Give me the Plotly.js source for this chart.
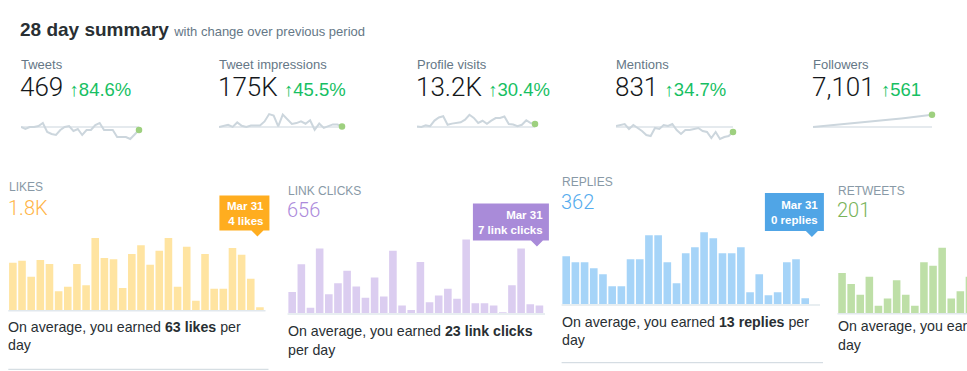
<!DOCTYPE html>
<html><head><meta charset="utf-8">
<script src="https://cdn.plot.ly/plotly-3.0.1.min.js"></script>
<style>html,body{margin:0;padding:0;background:#fff;overflow:hidden}#chart{width:967px;height:371px}</style>
</head><body><div id="chart"></div>
<script>
// ---------------- DATA ----------------
const days = ['Mar 4','Mar 5','Mar 6','Mar 7','Mar 8','Mar 9','Mar 10','Mar 11','Mar 12','Mar 13','Mar 14','Mar 15','Mar 16','Mar 17',
  'Mar 18','Mar 19','Mar 20','Mar 21','Mar 22','Mar 23','Mar 24','Mar 25','Mar 26','Mar 27','Mar 28','Mar 29','Mar 30','Mar 31'];

const metricTitles  = ['Tweets','Tweet impressions','Profile visits','Mentions','Followers'];
const metricTotals  = ['469','175K','13.2K','831','7,101'];
const metricChanges = ['84.6%','45.5%','30.4%','34.7%','561'];

const tweetsDaily = [20,18,20,20,21,24,15,13,12,17,20,21,16,18,12,17,17,22,24,17,17,17,10,10,10,8,12,17];
const impressionsDaily = [4200,5100,5600,4300,7000,5000,4300,5100,5300,5200,7600,12000,11100,4600,11700,8600,6100,6600,7700,6200,8300,2600,6300,3700,4600,5800,5700,4600];
const profileVisitsDaily = [338,322,368,343,512,605,641,388,421,437,462,538,688,594,441,507,418,512,587,593,636,409,392,341,386,523,437,412];
const mentionsDaily = [34,35,36,31,35,32,29,25,24,32,31,35,34,36,30,26,30,30,31,32,29,28,22,28,21,23,24,28];
const followersTotal = [6540,6558,6575,6590,6611,6630,6650,6668,6689,6705,6726,6748,6765,6786,6805,6822,6845,6866,6884,6905,6926,6948,6968,6990,7015,7040,7070,7101];
const sparkBaselines = [20,4250,320,33,6540];

const panelLabels = ['LIKES','LINK CLICKS','REPLIES','RETWEETS'];
const panelUnits  = ['likes','link clicks','replies','retweets'];
const likesDaily      = [71,74,50,75,69,28,35,69,37,108,78,76,33,84,97,68,89,108,35,95,14,84,32,32,93,83,47,4];
const linkClicksDaily = [19,44,5,58,17,27,38,24,14,32,15,56,7,3,46,10,16,22,13,66,9,9,7,1,25,58,8,7];
const repliesDaily    = [16,14,14,12,10,6,6,15,15,23,23,14,7,17,19,24,22,17,17,19,4,10,3,4,14,15,2,0];
const retweetsDaily   = [11,8,5,10,2,4,9,5,2,14,13,18,4,6,10,7,3,9,5,4,8,6,2,9,7,5,9,6];

// ---------------- STYLE / LAYOUT ----------------
const W = 967, H = 371;
const PX = x => x / W, PY = y => 1 - y / H;
const FONT = '"Liberation Sans", Arial, sans-serif';
const LIGHT = 'Roboto, "Liberation Sans", sans-serif';
const DARK = '#14171A', GRAY = '#657786', LABEL = '#8899A6', GREEN = '#17BF63';
const TXT_PAD = 2.5; // annotation inner padding compensation

const sparkStyle = [
  {values: tweetsDaily,        upp: 1,    x0: 21,  x1: 139},
  {values: impressionsDaily,   upp: 600,  x0: 219, x1: 342},
  {values: profileVisitsDaily, upp: 30,   x0: 417, x1: 535},
  {values: mentionsDaily,      upp: 1,    x0: 616, x1: 733},
  {values: followersTotal,     upp: 45.6, x0: 813, x1: 932}
];
const panelStyle = [
  {values: likesDaily,      x0: 8.3,   x1: 264.5, base: 310,   ppu: 0.667, labelY: 187.3, totalY: 208,   textY: 326.7, tipY: 236.5, boxW: 50, boxH: 35, bar: '#FFE4A1', accent: '#FFAD1F', total: '#FFB547', secondLine: 'day',     bottomLine: 369.3, tip: true},
  {values: linkClicksDaily, x0: 287.6, x1: 544,   base: 313.3, ppu: 1.117, labelY: 190.7, totalY: 210,   textY: 331,   tipY: 246.5, boxW: 76, boxH: 37, bar: '#DBCDF0', accent: '#A98BD9', total: '#AC8ADB', secondLine: 'per day', bottomLine: null, tip: true},
  {values: repliesDaily,    x0: 561.6, x1: 819,   base: 304.3, ppu: 3,     labelY: 181.7, totalY: 201.7, textY: 321.7, tipY: 237,   boxW: 59, boxH: 38, bar: '#A6D4F8', accent: '#50A5E6', total: '#55ACEE', secondLine: 'day',     bottomLine: 362.7, tip: true},
  {values: retweetsDaily,   x0: 837.5, x1: 967,   base: 313,   ppu: 3.63,  labelY: 190.7, totalY: 210,   textY: 326,   tipY: 0,     boxW: 0,  boxH: 0,  bar: '#BEDFA7', accent: '#79B35A', total: '#79B35A', secondLine: 'day',     bottomLine: null, tip: false, pitch: 9.1}
];

const traces = [], annotations = [], shapes = [];
const layout = {
  width: W, height: H, margin: {l: 0, r: 0, t: 0, b: 0, pad: 0},
  paper_bgcolor: '#ffffff', plot_bgcolor: 'rgba(0,0,0,0)',
  showlegend: false, hovermode: false, bargap: 0.17,
  annotations, shapes
};
const aid = i => (i === 1 ? '' : String(i));

function ann(x, y, text, size, color, extra) {
  const e = extra || {};
  const anchor = e.xanchor || 'left';
  const dx = anchor === 'left' ? -TXT_PAD : (anchor === 'right' ? TXT_PAD : 0);
  annotations.push(Object.assign({
    xref: 'paper', yref: 'paper', x: PX(x + dx), y: PY(y), text,
    showarrow: false, xanchor: 'left', yanchor: 'middle',
    font: {family: FONT, size, color}
  }, e));
}

// Header
ann(20.5, 30, '<b>28 day summary</b> <span style="font-size:13px;color:#657786;font-weight:400">with change over previous period</span>', 19, '#292F33');

// Sparklines + metrics
sparkStyle.forEach((s, j) => {
  const idx = 5 + j, n = s.values.length, base = sparkBaselines[j];
  layout['xaxis' + aid(idx)] = {domain: [PX(s.x0), PX(s.x1)], range: [0, n - 1], type: 'category', visible: false, fixedrange: true};
  layout['yaxis' + aid(idx)] = {domain: [PY(150), PY(100)], range: [base - 23 * s.upp, base + 27 * s.upp], visible: false, fixedrange: true};
  shapes.push({type: 'line', layer: 'below', xref: 'paper', yref: 'y' + aid(idx), x0: PX(s.x0), x1: PX(s.x1), y0: base, y1: base,
    line: {color: '#CCD6DD', width: 1.2}});
  traces.push({type: 'scatter', mode: 'lines', x: days, y: s.values, xaxis: 'x' + aid(idx), yaxis: 'y' + aid(idx),
    line: {color: '#CCD6DD', width: 2}, hoverinfo: 'skip'});
  traces.push({type: 'scatter', mode: 'markers', x: [days[n - 1]], y: [s.values[n - 1]], xaxis: 'x' + aid(idx), yaxis: 'y' + aid(idx),
    marker: {color: '#9ED07F', size: 6.5}, cliponaxis: false, hoverinfo: 'skip'});
  ann(s.x0, 64.5, metricTitles[j], 13, GRAY);
  ann(s.x0 - 0.5, 87, metricTotals[j] + ' <span style="font-size:18.5px;color:' + GREEN + ';font-weight:400;font-family:Liberation Sans, Arial, sans-serif">↑' + metricChanges[j] + '</span>',
    26, DARK, {font: {family: LIGHT, size: 26, color: DARK, weight: 300}});
});

// Bar panels
function fmtTotal(v) { return v >= 1000 ? (v / 1000).toFixed(1) + 'K' : String(v); }
panelStyle.forEach((p, i) => {
  const idx = i + 1, n = p.values.length;
  const sum = p.values.reduce((a, b) => a + b, 0);
  const avg = Math.round(sum / n);
  const xr = p.pitch ? [-0.5, -0.5 + (p.x1 - p.x0) / p.pitch] : [-0.5, n - 0.5];
  layout['xaxis' + aid(idx)] = {domain: [PX(p.x0), PX(p.x1)], range: xr, type: 'category', visible: false, fixedrange: true};
  layout['yaxis' + aid(idx)] = {domain: [PY(p.base), PY(p.base - 95)], range: [0, 95 / p.ppu], visible: false, fixedrange: true};
  traces.push({type: 'bar', x: days, y: p.values, xaxis: 'x' + aid(idx), yaxis: 'y' + aid(idx),
    marker: {color: p.bar, line: {width: 0}}, hoverinfo: 'skip'});
  shapes.push({type: 'line', xref: 'paper', yref: 'paper', x0: PX(p.x0), x1: PX(Math.min(p.x1 + 1, W)), y0: PY(p.base + 0.7), y1: PY(p.base + 0.7),
    line: {color: '#E1E8ED', width: 1.5}});
  ann(p.x0 + 0.7, p.labelY, panelLabels[i], 12, LABEL);
  ann(p.x0, p.totalY, fmtTotal(sum), 20, p.total, {font: {family: LIGHT, size: 20, color: p.total, weight: 300}});
  const line1 = p.secondLine === 'day'
    ? 'On average, you earned <b>' + avg + ' ' + panelUnits[i] + '</b> per'
    : 'On average, you earned <b>' + avg + ' ' + panelUnits[i] + '</b>';
  ann(p.x0 + 0.5, p.textY, line1, 14.2, '#292F33');
  ann(p.x0 + 0.5, p.textY + 18.5, p.secondLine, 14.2, '#292F33');
  if (p.bottomLine) {
    shapes.push({type: 'line', xref: 'paper', yref: 'paper', x0: PX(p.x0), x1: PX(p.x1 + 4), y0: PY(p.bottomLine), y1: PY(p.bottomLine),
      line: {color: '#CCD6DD', width: 1}});
  }
  if (p.tip) {
    const pitchPx = (p.x1 - p.x0) / n;
    const tipX = p.x0 + (n - 0.5) * pitchPx - 2.5;
    const right = tipX + 12, left = right - p.boxW, bottom = p.tipY - 6, top = bottom - p.boxH;
    const path = 'M' + PX(left) + ',' + PY(top) + ' L' + PX(right) + ',' + PY(top) + ' L' + PX(right) + ',' + PY(bottom) +
      ' L' + PX(tipX + 6) + ',' + PY(bottom) + ' L' + PX(tipX) + ',' + PY(p.tipY) + ' L' + PX(tipX - 6) + ',' + PY(bottom) +
      ' L' + PX(left) + ',' + PY(bottom) + ' Z';
    shapes.push({type: 'path', xref: 'paper', yref: 'paper', path, fillcolor: p.accent, line: {width: 0}, layer: 'above'});
    ann(right - 6, (top + bottom) / 2, '<b>' + days[n - 1] + '</b><br><b>' + p.values[n - 1] + ' ' + panelUnits[i] + '</b>', 11.5, '#ffffff',
      {xanchor: 'right', align: 'right'});
  }
});

Plotly.newPlot('chart', traces, layout, {staticPlot: true, displayModeBar: false});
</script>
</body></html>
